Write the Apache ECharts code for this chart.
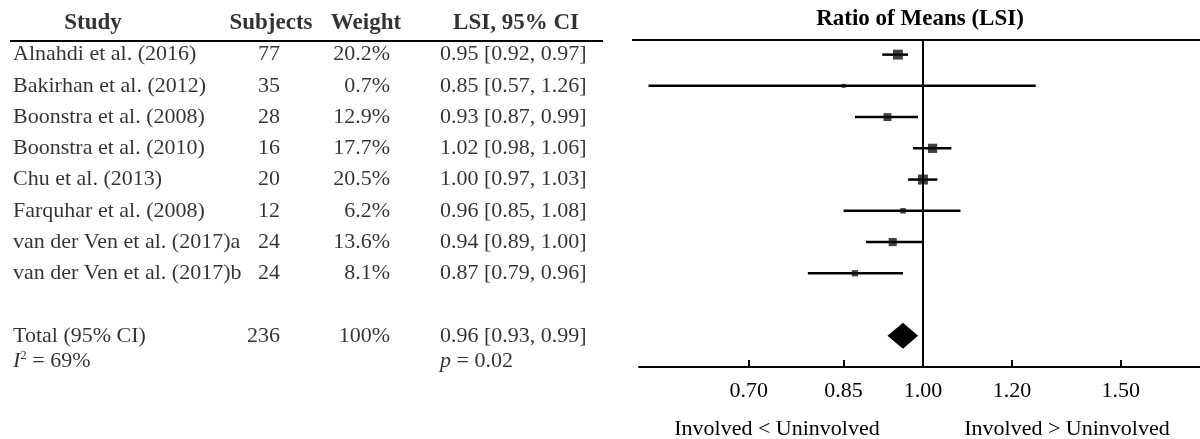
<!DOCTYPE html>
<html>
<head>
<meta charset="utf-8">
<script src="https://cdn.jsdelivr.net/npm/echarts@6/dist/echarts.min.js"></script>
<style>
  html, body { margin: 0; padding: 0; background: #fff; }
  #chart { width: 1200px; height: 439px; }
</style>
</head>
<body>
<div id="chart"></div>
<script>
// --- data ---
const studies = [
  'Alnahdi et al. (2016)',
  'Bakirhan et al. (2012)',
  'Boonstra et al. (2008)',
  'Boonstra et al. (2010)',
  'Chu et al. (2013)',
  'Farquhar et al. (2008)',
  'van der Ven et al. (2017)a',
  'van der Ven et al. (2017)b'
]
const subjects = [77, 35, 28, 16, 20, 12, 24, 24]
const weights = [20.2, 0.7, 12.9, 17.7, 20.5, 6.2, 13.6, 8.1]
const lsi = [0.95, 0.85, 0.93, 1.02, 1.00, 0.96, 0.94, 0.87]
const ciLow = [0.92, 0.57, 0.87, 0.98, 0.97, 0.85, 0.89, 0.79]
const ciHigh = [0.97, 1.26, 0.99, 1.06, 1.03, 1.08, 1.00, 0.96]

const totalSubjects = 236
const totalWeight = '100%'
const totalEst = 0.96
const totalLow = 0.93
const totalHigh = 0.99
const iSquared = 69
const pValue = '0.02'

const headers = ['Study', 'Subjects', 'Weight', 'LSI, 95% CI']
const xTicks = [0.70, 0.85, 1.00, 1.20, 1.50]
const xRange = [0.559, 1.764]

// --- layout ---
const FONT = 'Liberation Serif'
const headerRow = -1.0
const totalRow = 9
const statRow = 9.8
const colX = { study: 13, subjects: 280, weight: 390, lsi: 440 }
const headX = [93, 271, 366, 516]

const f2 = v => v.toFixed(2)
const ln = Math.log

const textSeries = (items, align, extra) => ({
  type: 'scatter',
  xAxisIndex: 1,
  yAxisIndex: 1,
  symbolSize: 0,
  silent: true,
  clip: false,
  data: items,
  label: Object.assign({
    show: true,
    position: 'inside',
    align: align,
    verticalAlign: 'middle',
    formatter: '{b}',
    fontFamily: FONT,
    fontSize: 22,
    color: '#000'
  }, extra || {})
})

const studyItems = studies.map((s, i) => ({ name: s, value: [colX.study, i] }))
studyItems.push({ name: 'Total (95% CI)', value: [colX.study, totalRow] })
studyItems.push({
  name: 'I2',
  value: [colX.study, statRow],
  label: {
    formatter: '{it|I}{sup|2}{n| = ' + iSquared + '%}',
    rich: {
      it: { fontFamily: FONT, fontSize: 22, fontStyle: 'italic', color: '#000' },
      sup: { fontFamily: FONT, fontSize: 13, color: '#000', padding: [0, 0, 10, 0] },
      n: { fontFamily: FONT, fontSize: 22, color: '#000' }
    }
  }
})

const subjItems = subjects.map((s, i) => ({ name: String(s), value: [colX.subjects, i] }))
subjItems.push({ name: String(totalSubjects), value: [colX.subjects, totalRow] })

const weightItems = weights.map((w, i) => ({ name: w.toFixed(1) + '%', value: [colX.weight, i] }))
weightItems.push({ name: totalWeight, value: [colX.weight, totalRow] })

const lsiItems = lsi.map((v, i) => ({
  name: f2(v) + ' [' + f2(ciLow[i]) + ', ' + f2(ciHigh[i]) + ']',
  value: [colX.lsi, i]
}))
lsiItems.push({ name: f2(totalEst) + ' [' + f2(totalLow) + ', ' + f2(totalHigh) + ']', value: [colX.lsi, totalRow] })
lsiItems.push({
  name: 'p',
  value: [colX.lsi, statRow],
  label: {
    formatter: '{it|p}{n| = ' + pValue + '}',
    rich: {
      it: { fontFamily: FONT, fontSize: 22, fontStyle: 'italic', color: '#000' },
      n: { fontFamily: FONT, fontSize: 22, color: '#000' }
    }
  }
})

const headItems = headers.map((h, i) => ({ name: h, value: [headX[i], headerRow] }))

const ciData = lsi.map((v, i) => [ln(ciLow[i]), ln(ciHigh[i]), i])
const pointData = lsi.map((v, i) => ({
  value: [ln(v), i],
  symbolSize: Math.max(4, 2.2 * Math.sqrt(weights[i]))
}))

const chart = echarts.init(document.getElementById('chart'))

chart.setOption({
  animation: false,
  backgroundColor: '#fff',
  title: {
    text: 'Ratio of Means (LSI)',
    left: 920,
    top: 8,
    textAlign: 'center',
    padding: 0,
    textStyle: { fontFamily: FONT, fontSize: 23, fontWeight: 'bold', color: '#000' }
  },
  grid: [
    { left: 639, right: 0, top: 39, bottom: 72 },
    { left: 0, width: 610, top: 39, bottom: 72 }
  ],
  xAxis: [
    {
      type: 'value',
      gridIndex: 0,
      min: ln(xRange[0]),
      max: ln(xRange[1]),
      splitLine: { show: false },
      axisLine: { onZero: false, lineStyle: { color: '#000', width: 2 } },
      axisTick: {
        inside: true,
        length: 7,
        customValues: xTicks.map(ln),
        lineStyle: { color: '#000', width: 2 }
      },
      axisLabel: {
        customValues: xTicks.map(ln),
        formatter: v => f2(Math.exp(v)),
        margin: 13,
        fontFamily: FONT,
        fontSize: 22,
        color: '#000'
      }
    },
    { type: 'value', gridIndex: 1, min: 0, max: 610, show: false }
  ],
  yAxis: [
    { type: 'value', gridIndex: 0, min: -0.5, max: 10, inverse: true, show: false },
    { type: 'value', gridIndex: 1, min: -0.5, max: 10, inverse: true, show: false }
  ],
  graphic: [
    { type: 'line', shape: { x1: 10, y1: 41, x2: 603, y2: 41 }, style: { stroke: '#000', lineWidth: 2 } },
    { type: 'line', shape: { x1: 632, y1: 40, x2: 1200, y2: 40 }, style: { stroke: '#000', lineWidth: 2 } },
    {
      type: 'text', x: 777, y: 429,
      style: { text: 'Involved < Uninvolved', font: '22px "Liberation Serif"', fill: '#000', align: 'center', verticalAlign: 'middle' }
    },
    {
      type: 'text', x: 1067, y: 429,
      style: { text: 'Involved > Uninvolved', font: '22px "Liberation Serif"', fill: '#000', align: 'center', verticalAlign: 'middle' }
    }
  ],
  series: [
    // confidence interval whiskers
    {
      type: 'custom',
      xAxisIndex: 0,
      yAxisIndex: 0,
      silent: true,
      encode: { x: [0, 1], y: 2 },
      data: ciData,
      renderItem: (params, api) => {
        const a = api.coord([api.value(0), api.value(2)])
        const b = api.coord([api.value(1), api.value(2)])
        return {
          type: 'line',
          shape: { x1: a[0], y1: a[1], x2: b[0], y2: b[1] },
          style: { stroke: '#000', lineWidth: 2.5 }
        }
      }
    },
    // point estimates, sized by weight
    {
      type: 'scatter',
      xAxisIndex: 0,
      yAxisIndex: 0,
      symbol: 'rect',
      silent: true,
      itemStyle: { color: '#111' },
      data: pointData,
      markLine: {
        silent: true,
        symbol: ['none', 'none'],
        label: { show: false },
        lineStyle: { color: '#000', width: 2, type: 'solid' },
        data: [{ xAxis: 0 }]
      }
    },
    // pooled estimate diamond
    {
      type: 'custom',
      xAxisIndex: 0,
      yAxisIndex: 0,
      silent: true,
      encode: { x: [0, 1, 2], y: 3 },
      data: [[ln(totalLow), ln(totalEst), ln(totalHigh), totalRow]],
      renderItem: (params, api) => {
        const lo = api.coord([api.value(0), api.value(3)])
        const mid = api.coord([api.value(1), api.value(3)])
        const hi = api.coord([api.value(2), api.value(3)])
        const h = 13
        return {
          type: 'polygon',
          shape: { points: [[lo[0], lo[1]], [mid[0], mid[1] - h], [hi[0], hi[1]], [mid[0], mid[1] + h]] },
          style: { fill: '#000' }
        }
      }
    },
    // table columns
    textSeries(headItems, 'center', { fontWeight: 'bold', fontSize: 23 }),
    textSeries(studyItems, 'left'),
    textSeries(subjItems, 'right'),
    textSeries(weightItems, 'right'),
    textSeries(lsiItems, 'left')
  ]
})
</script>
</body>
</html>
